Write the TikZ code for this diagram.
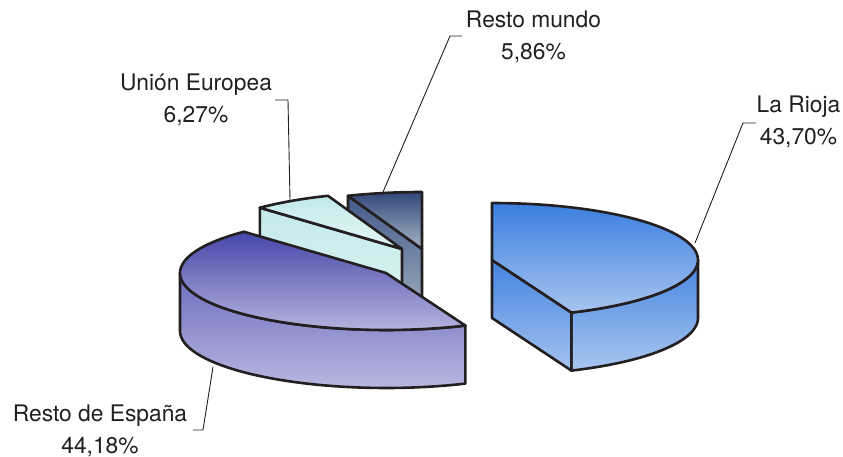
\documentclass[tikz,border=0pt]{standalone}
\usepackage{fontspec}
\setmainfont{TeX Gyre Heros}
\usetikzlibrary{calc}
\definecolor{ink}{HTML}{231F20}
\definecolor{muRt}{HTML}{44598A}\definecolor{muRb}{HTML}{9AAABB}
\definecolor{muTt}{HTML}{33487A}\definecolor{muTb}{HTML}{A5B4C6}
\definecolor{euRt}{HTML}{C4EAEA}\definecolor{euRb}{HTML}{DAF3F3}
\definecolor{euTt}{HTML}{C2EAEA}\definecolor{euTb}{HTML}{E6F7F7}
\definecolor{esWt}{HTML}{6C6CBE}\definecolor{esWb}{HTML}{B8B8E2}
\definecolor{esTt}{HTML}{4646AA}\definecolor{esTb}{HTML}{B4B4DE}
\definecolor{lrWt}{HTML}{4585E0}\definecolor{lrWb}{HTML}{A9C7F0}
\definecolor{lrRt}{HTML}{4484DF}\definecolor{lrRb}{HTML}{A5C3EF}
\definecolor{lrTt}{HTML}{3A7EE0}\definecolor{lrTb}{HTML}{A8C5EF}
\begin{document}
\begin{tikzpicture}[x=1pt,y=-1pt,
  face/.style={draw=ink, line width=2.6pt, line join=round},
  leader/.style={draw=ink, line width=0.9pt},
  lbl/.style={font=\fontsize{22.8}{31.4}\selectfont, align=center, inner sep=0pt, text=ink}]
\useasboundingbox (0,0) rectangle (843,457);

% ---------- Resto mundo (back) ----------
\coordinate (MUc) at (422,249);
\coordinate (MUcb) at (422,307);
\coordinate (MUa) at ({422+206*cos(111.06)},{249-57*sin(111.06)});
\coordinate (MUab) at ($(MUa)+(0,58)$);
\path[face, top color=muRt, bottom color=muRb]
  (MUc) -- (MUa) -- (MUab) -- (MUcb) -- cycle;
\path[face, top color=muTt, bottom color=muTb]
  (MUc) -- (MUa) -- plot[domain=111.06:90, samples=20, variable=\t] ({422+206*cos(\t)},{249-57*sin(\t)}) -- cycle;

% ---------- Union Europea ----------
\coordinate (EUc) at (402,249);
\coordinate (EUcb) at (402,307);
\coordinate (EUa) at ({402+206*cos(133.63)},{249-57*sin(133.63)});
\coordinate (EUab) at ($(EUa)+(0,58)$);
\path[face, top color=euRt, bottom color=euRb]
  (EUc) -- (EUa) -- (EUab) -- (EUcb) -- cycle;
\path[face, top color=euTt, bottom color=euTb]
  (EUc) -- (EUa) -- plot[domain=133.63:111.06, samples=20, variable=\t] ({402+206*cos(\t)},{249-57*sin(\t)}) -- cycle;

% ---------- Resto de Espana ----------
\coordinate (ESc) at (386,273);
\coordinate (ESa) at ({386+206*cos(133.63)},{273-57*sin(133.63)});
\coordinate (ESf) at ({386+206*cos(292.68)},{273-57*sin(292.68)});
\coordinate (ESfb) at ($(ESf)+(0,58)$);
\coordinate (ESl) at (180,273);
\coordinate (ESlb) at (180,331);
\path[face, top color=esWt, bottom color=esWb]
  (ESl) -- plot[domain=180:292.68, samples=40, variable=\t] ({386+206*cos(\t)},{273-57*sin(\t)})
  -- (ESfb) -- plot[domain=292.68:180, samples=40, variable=\t] ({386+206*cos(\t)},{331-57*sin(\t)}) -- cycle;
\path[face, top color=esTt, bottom color=esTb]
  (ESc) -- (ESa) -- plot[domain=133.63:292.68, samples=60, variable=\t] ({386+206*cos(\t)},{273-57*sin(\t)}) -- cycle;

% ---------- La Rioja ----------
\coordinate (LRc) at (492,260);
\coordinate (LRcb) at (492,318);
\coordinate (LRback) at (492,203);
\coordinate (LRf) at ({492+206*cos(-67.32)},{260-57*sin(-67.32)});
\coordinate (LRfb) at ($(LRf)+(0,58)$);
\coordinate (LRr) at (698,260);
\coordinate (LRrb) at (698,318);
\path[face, top color=lrWt, bottom color=lrWb]
  (LRf) -- plot[domain=-67.32:0, samples=30, variable=\t] ({492+206*cos(\t)},{260-57*sin(\t)})
  -- (LRrb) -- plot[domain=0:-67.32, samples=30, variable=\t] ({492+206*cos(\t)},{318-57*sin(\t)}) -- cycle;
\path[face, top color=lrRt, bottom color=lrRb]
  (LRc) -- (LRf) -- (LRfb) -- (LRcb) -- cycle;
\path[face, top color=lrTt, bottom color=lrTb]
  (LRc) -- (LRback) -- plot[domain=90:-67.32, samples=60, variable=\t] ({492+206*cos(\t)},{260-57*sin(\t)}) -- cycle;

% ---------- labels ----------
\node[lbl] (Lmu) at (533.5,37) {Resto mundo\\5,86\%};
\node[lbl] (Leu) at (196,100) {Unión Europea\\6,27\%};
\node[lbl] (Llr) at (798.5,122) {La Rioja\\43,70\%};
\node[lbl] (Les) at (100,431) {Resto de España\\44,18\%};

\coordinate (muK1) at (462,36); \coordinate (muK2) at (450,36); \coordinate (muE) at (383,192);
\coordinate (euK1) at (275,100); \coordinate (euK2) at (288,100); \coordinate (euE) at (290,200);
\coordinate (lrK1) at (756,123); \coordinate (lrK2) at (743,123); \coordinate (lrE) at (695,243);
\coordinate (esK1) at (193,430); \coordinate (esK2) at (203,430); \coordinate (esE) at (213,367);
\draw[leader] (muK1) -- (muK2) -- (muE);
\draw[leader] (euK1) -- (euK2) -- (euE);
\draw[leader] (lrK1) -- (lrK2) -- (lrE);
\draw[leader] (esK1) -- (esK2) -- (esE);
\end{tikzpicture}
\end{document}
